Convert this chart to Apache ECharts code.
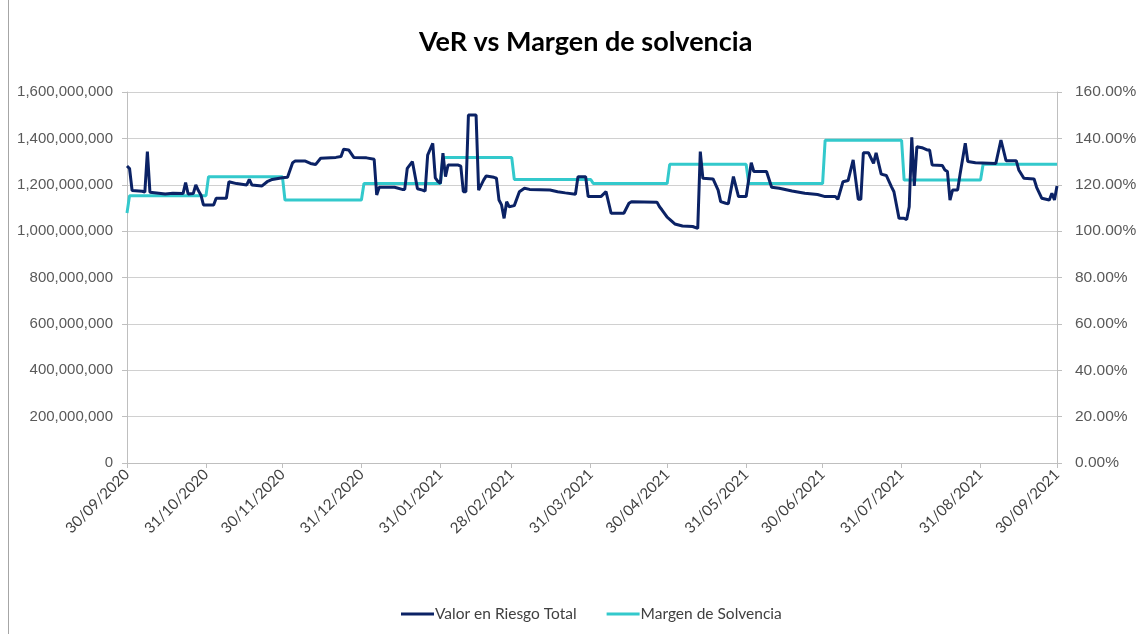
<!DOCTYPE html>
<html>
<head>
<meta charset="utf-8">
<title>VeR vs Margen de solvencia</title>
<script src="https://cdn.jsdelivr.net/npm/echarts@6/dist/echarts.min.js"></script>
<style>
  html, body { margin: 0; padding: 0; background: #fff; }
  #main { width: 1141px; height: 634px; }
</style>
</head>
<body>
<div id="main"></div>
<script>
  // etiquetas del eje x (fin de mes)
  var tickLabels = ['30/09/2020', '31/10/2020', '30/11/2020', '31/12/2020', '31/01/2021', '28/02/2021',
    '31/03/2021', '30/04/2021', '31/05/2021', '30/06/2021', '31/07/2021', '31/08/2021', '30/09/2021'];

  // Valor en Riesgo Total (millones)
  var riskDates = ['30/09/2020', '01/10/2020', '02/10/2020', '06/10/2020', '07/10/2020', '08/10/2020', '09/10/2020',
    '15/10/2020', '18/10/2020', '22/10/2020', '23/10/2020', '24/10/2020', '26/10/2020', '27/10/2020', '28/10/2020',
    '29/10/2020', '30/10/2020', '03/11/2020', '04/11/2020', '08/11/2020', '09/11/2020', '12/11/2020', '16/11/2020',
    '17/11/2020', '18/11/2020', '22/11/2020', '24/11/2020', '26/11/2020', '30/11/2020', '02/12/2020', '04/12/2020',
    '05/12/2020', '09/12/2020', '11/12/2020', '13/12/2020', '15/12/2020', '21/12/2020', '23/12/2020', '24/12/2020',
    '26/12/2020', '28/12/2020', '02/01/2021', '05/01/2021', '06/01/2021', '07/01/2021', '13/01/2021', '16/01/2021',
    '17/01/2021', '18/01/2021', '20/01/2021', '22/01/2021', '24/01/2021', '25/01/2021', '26/01/2021', '28/01/2021',
    '29/01/2021', '30/01/2021', '31/01/2021', '01/02/2021', '02/02/2021', '03/02/2021', '07/02/2021', '08/02/2021',
    '09/02/2021', '10/02/2021', '11/02/2021', '14/02/2021', '15/02/2021', '17/02/2021', '18/02/2021', '21/02/2021',
    '22/02/2021', '23/02/2021', '24/02/2021', '25/02/2021', '26/02/2021', '27/02/2021', '01/03/2021', '03/03/2021',
    '05/03/2021', '07/03/2021', '15/03/2021', '18/03/2021', '21/03/2021', '25/03/2021', '26/03/2021', '29/03/2021',
    '30/03/2021', '04/04/2021', '06/04/2021', '08/04/2021', '13/04/2021', '15/04/2021', '16/04/2021', '26/04/2021',
    '27/04/2021', '28/04/2021', '30/04/2021', '01/05/2021', '03/05/2021', '06/05/2021', '10/05/2021', '12/05/2021',
    '13/05/2021', '14/05/2021', '18/05/2021', '20/05/2021', '21/05/2021', '23/05/2021', '24/05/2021', '26/05/2021',
    '28/05/2021', '31/05/2021', '02/06/2021', '03/06/2021', '08/06/2021', '10/06/2021', '13/06/2021', '18/06/2021',
    '23/06/2021', '28/06/2021', '01/07/2021', '05/07/2021', '06/07/2021', '08/07/2021', '10/07/2021', '12/07/2021',
    '14/07/2021', '15/07/2021', '16/07/2021', '18/07/2021', '20/07/2021', '21/07/2021', '23/07/2021', '25/07/2021',
    '27/07/2021', '28/07/2021', '30/07/2021', '01/08/2021', '02/08/2021', '03/08/2021', '04/08/2021', '05/08/2021',
    '06/08/2021', '08/08/2021', '10/08/2021', '11/08/2021', '12/08/2021', '16/08/2021', '17/08/2021', '18/08/2021',
    '19/08/2021', '20/08/2021', '22/08/2021', '23/08/2021', '25/08/2021', '26/08/2021', '29/08/2021', '06/09/2021',
    '08/09/2021', '10/09/2021', '14/09/2021', '15/09/2021', '17/09/2021', '21/09/2021', '22/09/2021', '24/09/2021',
    '27/09/2021', '28/09/2021', '29/09/2021', '30/09/2021'];
  var riskValues = [1281, 1270, 1175, 1172, 1168, 1343, 1168,
    1160, 1163, 1162, 1209, 1160, 1162, 1199, 1175,
    1156, 1113, 1113, 1142, 1142, 1213, 1205, 1199,
    1223, 1199, 1195, 1213, 1223, 1230, 1232, 1295,
    1302, 1302, 1292, 1287, 1314, 1318, 1322, 1353,
    1350, 1318, 1316, 1310, 1156, 1189, 1189, 1180,
    1180, 1271, 1300, 1183, 1177, 1172, 1328, 1379,
    1230, 1215, 1206, 1336, 1235, 1285, 1285, 1280,
    1170, 1170, 1501, 1501, 1177, 1221, 1238, 1232,
    1228, 1134, 1113, 1055, 1127, 1105, 1110, 1170,
    1185, 1180, 1177, 1170, 1165, 1159, 1235, 1235,
    1149, 1149, 1170, 1077, 1077, 1120, 1127, 1125,
    1105, 1091, 1060, 1051, 1031, 1022, 1020, 1012,
    1343, 1228, 1225, 1177, 1127, 1120, 1118, 1235,
    1149, 1149, 1295, 1257, 1257, 1189, 1185, 1173,
    1163, 1158, 1149, 1149, 1137, 1213, 1218, 1307,
    1137, 1137, 1338, 1338, 1292, 1338, 1246, 1240,
    1192, 1170, 1055, 1055, 1050, 1105, 1405, 1195,
    1364, 1360, 1350, 1350, 1285, 1283, 1264, 1257,
    1134, 1177, 1177, 1249, 1379, 1300, 1295, 1292,
    1393, 1304, 1304, 1264, 1228, 1225, 1189, 1142,
    1134, 1163, 1134, 1195];

  // Margen de Solvencia (%)
  var marginDates = ['30/09/2020', '01/10/2020', '31/10/2020', '01/11/2020', '30/11/2020', '01/12/2020',
    '31/12/2020', '01/01/2021', '31/01/2021', '01/02/2021', '28/02/2021', '01/03/2021', '31/03/2021',
    '01/04/2021', '30/04/2021', '01/05/2021', '31/05/2021', '01/06/2021', '30/06/2021', '01/07/2021',
    '31/07/2021', '01/08/2021', '31/08/2021', '01/09/2021', '30/09/2021'];
  var marginValues = [107.8, 115.3, 115.3, 123.5, 123.5, 113.4,
    113.4, 120.5, 120.5, 131.7, 131.7, 122.3, 122.3,
    120.5, 120.5, 128.8, 128.8, 120.5, 120.5, 139.2,
    139.2, 122.0, 122.0, 128.8, 128.8];

  // todos los dias del periodo como categorias
  function fmt(d) {
    var dd = ('0' + d.getUTCDate()).slice(-2);
    var mm = ('0' + (d.getUTCMonth() + 1)).slice(-2);
    return dd + '/' + mm + '/' + d.getUTCFullYear();
  }
  var days = [];
  for (var t = Date.UTC(2020, 8, 30); t <= Date.UTC(2021, 8, 30); t += 86400000) {
    days.push(fmt(new Date(t)));
  }
  function isTick(index, value) {
    return tickLabels.indexOf(value) >= 0;
  }

  var riskData = riskDates.map(function (d, i) { return [d, riskValues[i] * 1000000]; });
  var marginData = marginDates.map(function (d, i) { return [d, marginValues[i]]; });

  var myChart = echarts.init(document.getElementById('main'));
  var option = {
    backgroundColor: '#fff',
    animation: false,
    title: {
      text: 'VeR vs Margen de solvencia',
      left: 414,
      top: 24,
      textStyle: { fontFamily: 'Lato', fontWeight: 'bold', fontSize: 27, color: '#000' }
    },
    legend: {
      bottom: 7,
      left: 396,
      icon: 'rect',
      itemWidth: 33,
      itemHeight: 3,
      itemGap: 30,
      textStyle: { fontFamily: 'Lato', fontSize: 15.5, color: '#404040', padding: [0, 0, 0, -4] },
      data: ['Valor en Riesgo Total', 'Margen de Solvencia']
    },
    grid: { left: 127, right: 84, top: 92, bottom: 171 },
    xAxis: {
      type: 'category',
      boundaryGap: false,
      data: days,
      axisLine: { lineStyle: { color: '#bfbfbf' } },
      axisTick: { interval: isTick, length: 5, lineStyle: { color: '#bfbfbf' } },
      axisLabel: {
        interval: isTick,
        rotate: 45,
        margin: 9,
        fontFamily: 'Lato',
        fontSize: 15,
        color: '#404040'
      },
      splitLine: { show: false }
    },
    yAxis: [
      {
        type: 'value',
        min: 0,
        max: 1600000000,
        interval: 200000000,
        axisLine: { show: true, lineStyle: { color: '#bfbfbf' } },
        axisTick: { show: true, length: 5, lineStyle: { color: '#bfbfbf' } },
        axisLabel: {
          margin: 14,
          fontFamily: 'Liberation Sans',
          fontSize: 15,
          color: '#595959',
          formatter: function (v) { return String(v).replace(/\B(?=(\d{3})+(?!\d))/g, ','); }
        },
        splitLine: { lineStyle: { color: '#d0d0d0', width: 1 } }
      },
      {
        type: 'value',
        min: 0,
        max: 160,
        interval: 20,
        position: 'right',
        axisLine: { show: true, lineStyle: { color: '#bfbfbf' } },
        axisTick: { show: true, length: 5, lineStyle: { color: '#bfbfbf' } },
        axisLabel: {
          margin: 18,
          fontFamily: 'Liberation Sans',
          fontSize: 15.5,
          color: '#595959',
          formatter: function (v) { return v.toFixed(2) + '%'; }
        },
        splitLine: { show: false }
      }
    ],
    series: [
      {
        name: 'Valor en Riesgo Total',
        type: 'line',
        yAxisIndex: 0,
        symbol: 'none',
        z: 3,
        itemStyle: { color: '#0b2265' },
        lineStyle: { color: '#0b2265', width: 3 },
        data: riskData
      },
      {
        name: 'Margen de Solvencia',
        type: 'line',
        yAxisIndex: 1,
        symbol: 'none',
        z: 2,
        itemStyle: { color: '#33c9cc' },
        lineStyle: { color: '#33c9cc', width: 3 },
        data: marginData
      }
    ],
    graphic: [
      // borde izquierdo del grafico
      { type: 'line', shape: { x1: 8.5, y1: 0, x2: 8.5, y2: 634 }, style: { stroke: '#a6a6a6', lineWidth: 1 } }
    ]
  };
  myChart.setOption(option);
</script>
</body>
</html>
